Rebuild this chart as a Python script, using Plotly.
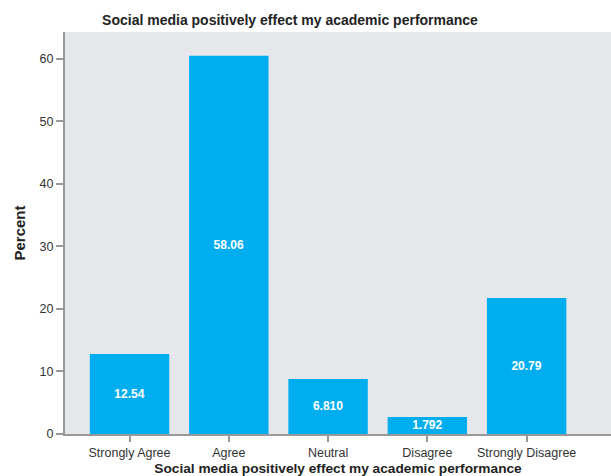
import plotly.graph_objects as go

categories = ["Strongly Agree", "Agree", "Neutral", "Disagree", "Strongly Disagree"]
bar_heights = [12.8, 60.5, 8.8, 2.72, 21.76]
bar_labels = ["12.54", "58.06", "6.810", "1.792", "20.79"]
y_ticks = [0, 10, 20, 30, 40, 50, 60]

title_text = "Social media positively effect my academic performance"

fig = go.Figure(go.Bar(
    x=categories,
    y=bar_heights,
    text=bar_labels,
    textposition="inside",
    insidetextanchor="middle",
    textangle=0,
    textfont=dict(family="Liberation Sans", size=12, color="white", weight="bold"),
    marker=dict(color="#00aeef", line=dict(width=0)),
    hoverinfo="skip",
))

fig.update_layout(
    width=611, height=476,
    margin=dict(l=65, r=0, t=32, b=42),
    paper_bgcolor="white",
    plot_bgcolor="#e6e7ea",
    bargap=0.2,
    showlegend=False,
    uniformtext=dict(minsize=12, mode="show"),
    font=dict(family="Liberation Sans", color="#333333"),
    title=dict(
        text=title_text,
        x=290 / 611, xanchor="center", xref="container",
        y=1 - 20 / 476, yanchor="middle", yref="container",
        font=dict(family="Liberation Sans", size=14, color="#222222", weight="bold"),
    ),
)

fig.update_xaxes(
    range=[-0.65, 4.85],
    showline=True, linecolor="#999999", linewidth=2,
    ticks="outside", ticklen=6, tickwidth=2, tickcolor="#999999",
    tickfont=dict(size=12.5, color="#333333"),
    showgrid=False, zeroline=False,
    title=dict(text=title_text, standoff=5,
               font=dict(size=13.7, color="#222222", weight="bold")),
    automargin=False,
)
fig.update_yaxes(
    range=[0, 64.3],
    tickvals=y_ticks,
    showline=True, linecolor="#999999", linewidth=2,
    ticks="outside", ticklen=7, tickwidth=2, tickcolor="#999999",
    tickfont=dict(size=12.5, color="#333333"),
    showgrid=False, zeroline=False,
    title=dict(text="Percent", standoff=10,
               font=dict(size=15, color="#222222", weight="bold")),
    automargin=False,
)

fig.write_html("out.html")
